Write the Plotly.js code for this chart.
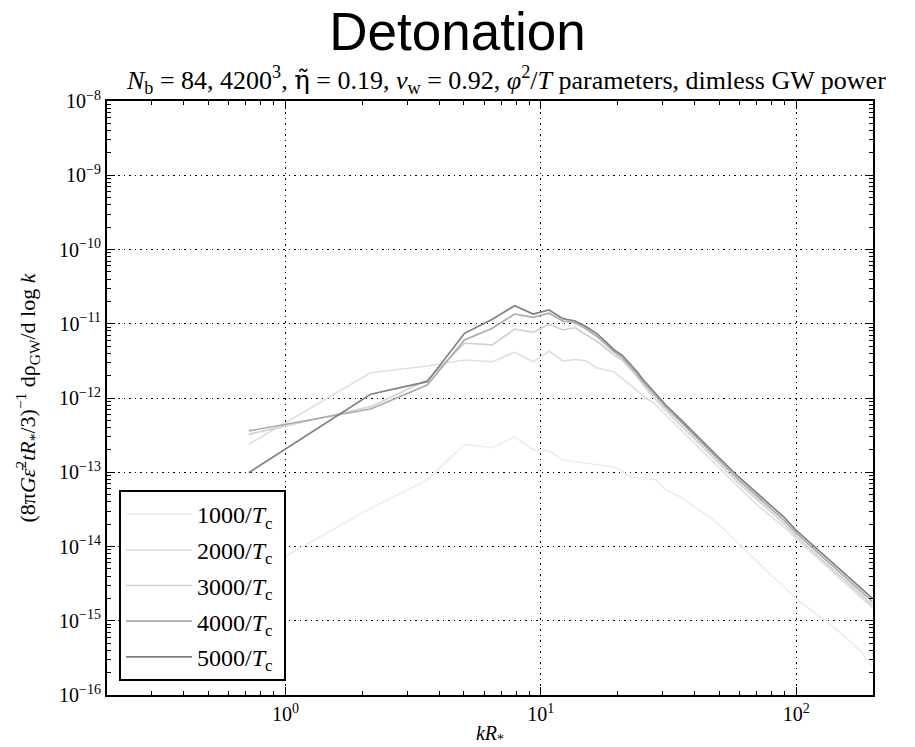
<!DOCTYPE html>
<html>
<head>
<meta charset="utf-8">
<script src="https://cdn.plot.ly/plotly-3.0.1.min.js"></script>
<style>html,body{margin:0;padding:0;background:#fff;}#chart{width:915px;height:747px;}</style>
</head>
<body>
<div id="chart"></div>
<script>
// wavenumber bins kR_*
const kR = [0.718, 2.154, 3.59, 5.026, 6.462, 7.898, 9.334, 10.77, 12.206, 13.642, 15.078, 16.514, 17.95, 19.386, 20.822, 22.258, 23.694, 25.13, 28.0, 30.87, 35.18, 39.49, 45.23, 49.54, 59.6, 69.65, 79.7, 89.75, 99.8, 119.9, 140.0, 160.1, 180.2, 198.9];

const P1000 = [3.88e-15, 3.27e-14, 7.87e-14, 2.38e-13, 2.14e-13, 3.01e-13, 2.00e-13, 1.95e-13, 1.46e-13, 1.387e-13, 1.333e-13, 1.253e-13, 1.213e-13, 1.178e-13, 1.04e-13, 8.71e-14, 8.49e-14, 8.37e-14, 8.04e-14, 5.77e-14, 4.69e-14, 3.51e-14, 2.58e-14, 2.01e-14, 1.081e-14, 6.58e-15, 4.13e-15, 2.85e-15, 2.02e-15, 1.233e-15, 8.24e-16, 5.51e-16, 3.79e-16, 2.40e-16];

const P2000 = [2.38e-13, 2.19e-12, 2.70e-12, 3.25e-12, 3.08e-12, 4.12e-12, 3.08e-12, 4.30e-12, 3.15e-12, 3.32e-12, 3.15e-12, 2.56e-12, 2.38e-12, 2.24e-12, 1.84e-12, 1.545e-12, 1.282e-12, 1.064e-12, 8.30e-13, 5.90e-13, 3.82e-13, 2.55e-13, 1.60e-13, 1.178e-13, 6.14e-14, 3.73e-14, 2.54e-14, 1.83e-14, 1.282e-14, 7.22e-15, 4.47e-15, 2.94e-15, 2.06e-15, 1.49e-15];

const P3000 = [3.24e-13, 7.64e-13, 1.746e-12, 5.46e-12, 5.18e-12, 8.49e-12, 7.67e-12, 9.84e-12, 8.24e-12, 8.85e-12, 7.05e-12, 5.86e-12, 4.71e-12, 3.79e-12, 3.25e-12, 2.54e-12, 1.98e-12, 1.52e-12, 9.70e-13, 6.79e-13, 4.40e-13, 2.94e-13, 1.845e-13, 1.352e-13, 7.16e-14, 4.43e-14, 2.92e-14, 2.04e-14, 1.384e-14, 7.85e-15, 4.89e-15, 3.22e-15, 2.25e-15, 1.63e-15];

const P4000 = [3.60e-13, 7.11e-13, 1.496e-12, 6.04e-12, 8.69e-12, 1.352e-11, 1.222e-11, 1.384e-11, 1.089e-11, 1.033e-11, 8.49e-12, 6.84e-12, 5.33e-12, 4.17e-12, 3.51e-12, 2.74e-12, 2.14e-12, 1.64e-12, 1.064e-12, 7.45e-13, 4.83e-13, 3.22e-13, 2.02e-13, 1.486e-13, 7.87e-14, 4.90e-14, 3.22e-14, 2.24e-14, 1.52e-14, 8.61e-15, 5.36e-15, 3.54e-15, 2.47e-15, 1.81e-15];

const P5000 = [9.86e-14, 1.122e-12, 1.660e-12, 7.43e-12, 1.148e-11, 1.750e-11, 1.352e-11, 1.531e-11, 1.169e-11, 1.089e-11, 9.12e-12, 7.43e-12, 5.73e-12, 4.43e-12, 3.79e-12, 2.96e-12, 2.31e-12, 1.775e-12, 1.15e-12, 8.05e-13, 5.21e-13, 3.48e-13, 2.19e-13, 1.60e-13, 8.63e-14, 5.37e-14, 3.53e-14, 2.46e-14, 1.667e-14, 9.55e-15, 5.92e-15, 3.92e-15, 2.74e-15, 2.00e-15];

const seriesNames = ["1000/<i>T</i><sub>c</sub>&nbsp;", "2000/<i>T</i><sub>c</sub>&nbsp;", "3000/<i>T</i><sub>c</sub>&nbsp;", "4000/<i>T</i><sub>c</sub>&nbsp;", "5000/<i>T</i><sub>c</sub>&nbsp;"];
const seriesData = [P1000, P2000, P3000, P4000, P5000];
const seriesColors = ["#ededed", "#e0e0e0", "#d1d1d1", "#ababab", "#808080"];

const xTickVals = [1, 10, 100];
const xTickText = ["10<sup>0</sup>", "10<sup>1</sup>", "10<sup>2</sup>"];
const yTickVals = [1e-16, 1e-15, 1e-14, 1e-13, 1e-12, 1e-11, 1e-10, 1e-9, 1e-8];
const yTickText = ["10<sup>−16</sup>", "10<sup>−15</sup>", "10<sup>−14</sup>", "10<sup>−13</sup>", "10<sup>−12</sup>", "10<sup>−11</sup>", "10<sup>−10</sup>", "10<sup>−9</sup>", "10<sup>−8</sup>"];

function minorTicks(lo, hi) {
  const out = [];
  for (let e = lo; e < hi; e++) {
    for (let m = 2; m <= 9; m++) out.push(m * Math.pow(10, e));
  }
  return out;
}

const serif = "Liberation Serif, DejaVu Serif, serif";

const traces = seriesData.map((d, i) => ({
  x: kR, y: d, type: "scatter", mode: "lines",
  name: seriesNames[i], legendgroup: "g" + i,
  line: {color: seriesColors[i], width: 1.7}
}));

const axisCommon = {
  type: "log", showline: true, linecolor: "#000", linewidth: 2, mirror: "allticks",
  ticks: "inside", ticklen: 8, tickwidth: 1, tickcolor: "#000",
  showgrid: true, gridcolor: "#000", gridwidth: 1, griddash: "1.5px,4px",
  zeroline: false, tickfont: {family: serif, size: 20, color: "#000"},
  tickmode: "array"
};

const layout = {
  width: 915, height: 747,
  margin: {l: 107, r: 42, t: 101, b: 52},
  paper_bgcolor: "#fff", plot_bgcolor: "#fff",
  font: {family: serif, color: "#000"},
  title: {text: "Detonation", font: {family: "Liberation Sans, Arial, sans-serif", size: 53, color: "#000"},
          x: 0.5, xanchor: "center", xref: "container", y: 1 - 31 / 747, yanchor: "middle", yref: "container"},
  xaxis: Object.assign({}, axisCommon, {
    range: [Math.log10(0.2), Math.log10(200)],
    tickvals: xTickVals, ticktext: xTickText,
    minor: {ticks: "inside", ticklen: 4, tickcolor: "#000", tickmode: "array", tickvals: minorTicks(-1, 3), showgrid: false},
    title: {text: "<i>kR</i><sub>*</sub>", font: {family: serif, size: 20}, standoff: 5}
  }),
  yaxis: Object.assign({}, axisCommon, {
    range: [-16, -8],
    tickvals: yTickVals, ticktext: yTickText,
    minor: {ticks: "inside", ticklen: 4, tickcolor: "#000", tickmode: "array", tickvals: minorTicks(-16, -8), showgrid: false},
    title: {text: "(8π<i>Gε̄</i><sup>2</sup><i>tR</i><sub>*</sub>/3)<sup>−1</sup> dρ<sub>GW</sub>/d log <i>k</i>", font: {family: serif, size: 22}, standoff: 17}
  }),
  legend: {
    x: 12 / 766, y: (695 - 490) / 594, xanchor: "left", yanchor: "top",
    bgcolor: "#fff", bordercolor: "#000", borderwidth: 2,
    font: {family: serif, size: 24, color: "#000"},
    traceorder: "grouped", tracegroupgap: 1.5, itemwidth: 66
  },
  annotations: [{
    text: "<i>N</i><sub>b</sub> = 84, 4200<sup>3</sup>, <span style=\"font-family:'DejaVu Serif'\">η̃</span> = 0.19, <i>v</i><sub>w</sub> = 0.92, <i>φ</i><sup>2</sup>/<i>T</i> parameters, dimless GW power",
    xref: "paper", yref: "paper", x: (506 - 107) / 766, y: 1 + (101 - 80) / 594,
    xanchor: "center", yanchor: "middle", showarrow: false,
    font: {family: serif, size: 26, color: "#000"}
  }]
};

Plotly.newPlot("chart", traces, layout, {displayModeBar: false, staticPlot: true});
</script>
</body>
</html>
